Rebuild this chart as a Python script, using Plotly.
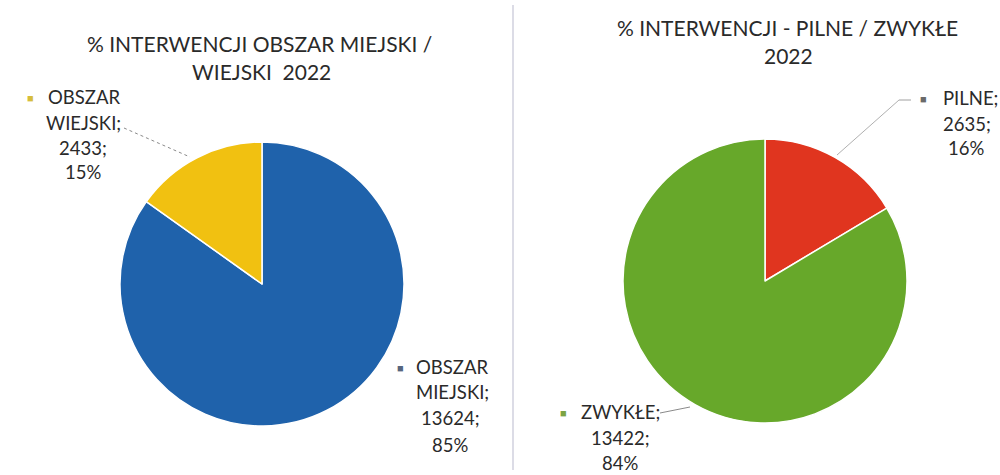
import plotly.graph_objects as go

W, H = 1000, 475

# ---- data ----
area_labels = ["OBSZAR MIEJSKI", "OBSZAR WIEJSKI"]
area_values = [13624, 2433]
area_colors = ["#1f62ab", "#f1c111"]
area_key_colors = ["#56657e", "#d6bd3c"]

prio_labels = ["PILNE", "ZWYKŁE"]
prio_values = [2635, 13422]
prio_colors = ["#e0351f", "#67a82a"]
prio_key_colors = ["#6a6a6a", "#7ca443"]

title_left = ["% INTERWENCJI OBSZAR MIEJSKI /", "WIEJSKI  2022"]
title_right = ["% INTERWENCJI - PILNE / ZWYKŁE", "2022"]

TEXT = "#2a2a2a"
FONT = "Lato"
LABEL_SIZE = 18.5
TITLE_SIZE = 21


def px(x):
    return x / W


def py(y):
    return 1 - y / H


def pct(vals, i):
    return f"{round(100 * vals[i] / sum(vals))}%"


fig = go.Figure()
fig.add_trace(go.Pie(
    labels=area_labels, values=area_values, sort=False, direction="clockwise",
    rotation=0, marker=dict(colors=area_colors, line=dict(color="white", width=1.5)),
    textinfo="none", hoverinfo="skip", showlegend=False,
    domain=dict(x=[px(120), px(404)], y=[py(426), py(142)]),
))
fig.add_trace(go.Pie(
    labels=prio_labels, values=prio_values, sort=False, direction="clockwise",
    rotation=0, marker=dict(colors=prio_colors, line=dict(color="white", width=1.5)),
    textinfo="none", hoverinfo="skip", showlegend=False,
    domain=dict(x=[px(623), px(907)], y=[py(423), py(139)]),
))

ann = []


def text(x, y, s, size=LABEL_SIZE, color=TEXT):
    ann.append(dict(x=px(x), y=py(y), xref="paper", yref="paper", text=s,
                    showarrow=False, xanchor="center", yanchor="middle",
                    font=dict(family=FONT, size=size, color=color)))


def key(x, y, color):
    text(x, y, "■", size=11, color=color)


# titles
text(259, 43, title_left[0], size=TITLE_SIZE)
text(261, 72, title_left[1], size=TITLE_SIZE)
text(787, 27, title_right[0], size=TITLE_SIZE)
text(788, 55, title_right[1], size=TITLE_SIZE)

# left: OBSZAR WIEJSKI (top-left)
w_words = area_labels[1].split(" ")
key(30, 97, area_key_colors[1])
text(84, 97, w_words[0])
text(83, 123, w_words[1] + ";")
text(83, 148, f"{area_values[1]};")
text(83, 172, pct(area_values, 1))

# left: OBSZAR MIEJSKI (bottom-right)
m_words = area_labels[0].split(" ")
key(400, 367, area_key_colors[0])
text(452, 367, m_words[0])
text(452, 392, m_words[1] + ";")
text(450, 418, f"{area_values[0]};")
text(450, 445, pct(area_values, 0))

# right: PILNE (top-right)
key(923, 98, prio_key_colors[0])
text(970, 98, prio_labels[0] + ";")
text(967, 124, f"{prio_values[0]};")
text(966, 148, pct(prio_values, 0))

# right: ZWYKŁE (bottom-left)
key(563, 412, prio_key_colors[1])
text(620, 412, prio_labels[1] + ";")
text(620, 438, f"{prio_values[1]};")
text(620, 463, pct(prio_values, 1))

shapes = [
    # divider
    dict(type="line", xref="paper", yref="paper", x0=px(513), x1=px(513),
         y0=py(5), y1=py(470), line=dict(color="#dcdce6", width=2)),
    # leader lines
    dict(type="line", xref="paper", yref="paper", x0=px(124), y0=py(128),
         x1=px(190), y1=py(157), line=dict(color="#8a8a8a", width=1, dash="dot")),
    dict(type="line", xref="paper", yref="paper", x0=px(911), y0=py(100),
         x1=px(899), y1=py(100), line=dict(color="#a0a0a0", width=1)),
    dict(type="line", xref="paper", yref="paper", x0=px(899), y0=py(100),
         x1=px(837), y1=py(155), line=dict(color="#b0b0b0", width=1)),
    dict(type="line", xref="paper", yref="paper", x0=px(660), y0=py(413),
         x1=px(690), y1=py(407), line=dict(color="#8a8a8a", width=1)),
]

fig.update_layout(
    width=W, height=H, margin=dict(l=0, r=0, t=0, b=0),
    paper_bgcolor="white", plot_bgcolor="white",
    annotations=ann, shapes=shapes, showlegend=False,
)

fig.write_html("out.html", config={"displayModeBar": False},
               post_script="document.body.style.margin='0';document.body.style.overflow='hidden';")
